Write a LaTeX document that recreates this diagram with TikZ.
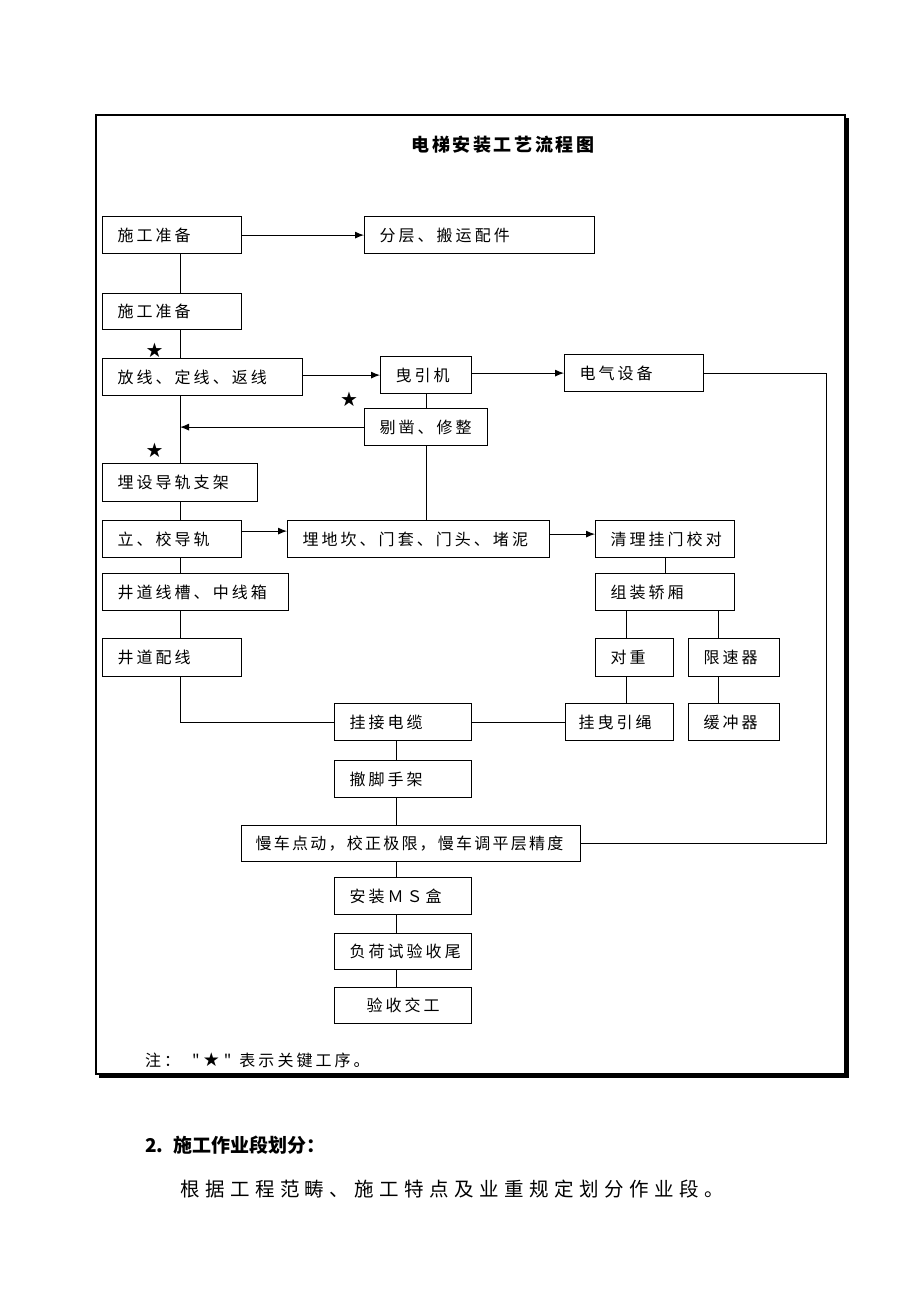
\documentclass[tikz,border=0pt]{standalone}
\usepackage{fontspec}
\setmainfont{Liberation Serif}
\newfontfamily\cjk[LetterSpace=19]{Noto Sans CJK SC}
\newfontfamily\cjknarrow[LetterSpace=14]{Noto Sans CJK SC}
\newfontfamily\cjktitle[LetterSpace=14]{Noto Sans CJK SC}
\newfontfamily\cjkbody[LetterSpace=28]{Noto Sans CJK SC}
\newfontfamily\cjkplain{Noto Sans CJK SC}
\newfontfamily\sym{DejaVu Sans}
\usetikzlibrary{arrows.meta}
\tikzset{
  box/.style={draw, line width=1.2pt, inner xsep=15pt, inner ysep=0pt, align=left,
    font=\cjk\fontsize{16}{18}\selectfont},
  conn/.style={line width=0.9pt},
  arr/.style={conn, -{Latex[length=9pt,width=7pt]}},
  star/.style={font=\sym\fontsize{20}{20}\selectfont, inner sep=0pt}
}
\newcommand{\bx}[6]{%
  \pgfmathsetmacro{\bw}{#4-#2}\pgfmathsetmacro{\bh}{#5-#3}\pgfmathsetmacro{\tw}{#4-#2-30}%
  \node[box, anchor=north west, minimum width=\bw pt, minimum height=\bh pt, text width=\tw pt] (#1) at (#2,#3) {\mbox{#6}};}
\begin{document}
\begin{tikzpicture}[x=1pt,y=-1pt]
\useasboundingbox (0,0) rectangle (920,1302);
% frame
\draw[line width=1.2pt] (96,115) rectangle (845,1074);
\draw[line width=3pt] (847.5,118) -- (847.5,1076.5) -- (99,1076.5);
% title
\node[font=\cjktitle\bfseries\fontsize{18}{20}\selectfont] (title) at (503,145) {电梯安装工艺流程图};
% boxes
\bx{a1}{102}{216}{241}{253}{施工准备}
\bx{fc}{364}{216}{594}{253}{分层、搬运配件}
\bx{a2}{102}{293}{241}{329}{施工准备}
\bx{fx}{102}{358}{302}{395}{放线、定线、返线}
\bx{yyj}{380}{356}{471}{393}{曳引机}
\bx{dq}{564}{354}{703}{391}{电气设备}
\bx{tz}{364}{408}{487}{445}{剔凿、修整}
\bx{md}{102}{463}{257}{501}{埋设导轨支架}
\bx{lj}{102}{520}{241}{557}{立、校导轨}
\bx{mdk}{287}{520}{549}{557}{埋地坎、门套、门头、堵泥}
\bx{ql}{595}{520}{734}{557}{清理挂门校对}
\bx{jdx}{102}{573}{288}{610}{井道线槽、中线箱}
\bx{jdp}{102}{638}{241}{676}{井道配线}
\bx{zz}{595}{573}{734}{610}{组装轿厢}
\bx{dz}{595}{638}{673}{676}{对重}
\bx{xsq}{688}{638}{779}{676}{限速器}
\bx{gjd}{334}{703}{471}{740}{挂接电缆}
\bx{gyy}{565}{703}{673}{740}{\hspace{-2pt}挂曳引绳}
\bx{hcq}{688}{703}{779}{740}{缓冲器}
\bx{cjs}{334}{760}{471}{797}{撤脚手架}
\bx{mc}{241}{825}{580}{861}{\cjknarrow\hspace{-1pt}慢车点动，校正极限，慢车调平层精度}
\bx{ms}{334}{877}{471}{914}{安装ＭＳ盒}
\bx{fh}{334}{933}{471}{969}{负荷试验收尾}
\bx{ys}{334}{987}{471}{1023}{\hspace{17pt}验收交工}
% stars
\node[star] (s1) at (154.5,350) {★};
\node[star] (s2) at (349,399) {★};
\node[star] (s3) at (154.5,450) {★};
% helper coordinates
\coordinate (vx) at (180,0);
\coordinate (rx) at (826,0);
\coordinate (dx) at (626.5,0);
\coordinate (xx) at (718.5,0);
\coordinate (cx) at (396,0);
% connectors
\draw[arr] (a1.east) -- (fc.west);
\draw[conn] (a1.south -| vx) -- (a2.north -| vx);
\draw[conn] (a2.south -| vx) -- (fx.north -| vx);
\draw[conn] (fx.south -| vx) -- (md.north -| vx);
\draw[conn] (md.south -| vx) -- (lj.north -| vx);
\draw[conn] (lj.south -| vx) -- (jdx.north -| vx);
\draw[conn] (jdx.south -| vx) -- (jdp.north -| vx);
\draw[conn] (jdp.south -| vx) |- (gjd.west);
\draw[arr] (fx.east |- yyj.west) -- (yyj.west);
\draw[arr] (yyj.east |- dq.west) -- (dq.west);
\draw[conn] (dq.east) -- (dq.east -| rx) |- (mc.east);
\draw[conn] (yyj.south) -- (tz.north -| yyj.south);
\draw[arr] (tz.west) -- (tz.west -| vx);
\draw[conn] (tz.south) -- (mdk.north -| tz.south);
\draw[arr] ([yshift=8pt]lj.east) -- ([yshift=8pt]lj.east -| mdk.west);
\draw[arr] ([yshift=5pt]mdk.east) -- ([yshift=5pt]mdk.east -| ql.west);
\draw[conn] (ql.south) -- (zz.north);
\draw[conn] (zz.south -| dx) -- (dz.north -| dx);
\draw[conn] (zz.south -| xx) -- (xsq.north -| xx);
\draw[conn] (dz.south -| dx) -- (gyy.north -| dx);
\draw[conn] (xsq.south -| xx) -- (hcq.north -| xx);
\draw[conn] (gyy.west) -- (gjd.east);
\draw[conn] (gjd.south -| cx) -- (cjs.north -| cx);
\draw[conn] (cjs.south -| cx) -- (mc.north -| cx);
\draw[conn] (mc.south -| cx) -- (ms.north -| cx);
\draw[conn] (ms.south -| cx) -- (fh.north -| cx);
\draw[conn] (fh.south -| cx) -- (ys.north -| cx);
% note
\node[anchor=west, inner sep=0pt, font=\cjk\fontsize{16}{18}\selectfont] (note) at (145,1060)
  {注：\hspace{12pt}"\hspace{3pt}{\sym\fontsize{19}{19}\selectfont ★}\hspace{4pt}"\hspace{8pt}表示关键工序。};
% text below
\node[anchor=west, inner sep=0pt, font=\cjkplain\bfseries\fontsize{19}{21}\selectfont] (head) at (145,1145)
  {2.\hspace{10pt}施工作业段划分：};
\node[anchor=west, inner sep=0pt, font=\cjkbody\fontsize{19.5}{21}\selectfont] (body) at (180,1189)
  {根据工程范畴、施工特点及业重规定划分作业段。};
\end{tikzpicture}
\end{document}
